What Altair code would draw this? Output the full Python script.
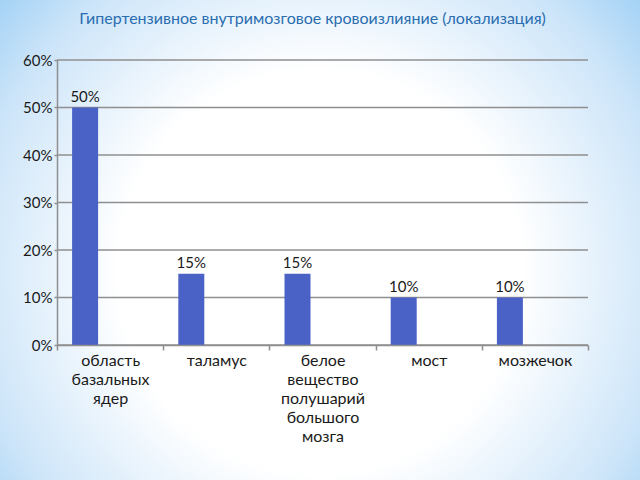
import altair as alt
import pandas as pd

categories = ["область\nбазальных\nядер", "таламус",
              "белое\nвещество\nполушарий\nбольшого\nмозга", "мост", "мозжечок"]
values = [0.50, 0.15, 0.15, 0.10, 0.10]
y_ticks = [0, 0.1, 0.2, 0.3, 0.4, 0.5, 0.6]
title_text = "Гипертензивное внутримозговое кровоизлияние (локализация)"

df = pd.DataFrame({"cat": categories, "val": values})
grid_df = pd.DataFrame({"g": y_ticks})
bg_df = pd.DataFrame({"a": [0]})

FONT = "Lato"
BAR = "#4a62c6"
GRID = "#8f8f8f"
TXT = "#1a1a1a"

x_enc = alt.X("cat:N", sort=categories,
              scale=alt.Scale(paddingInner=0, paddingOuter=0),
              axis=alt.Axis(title=None, labelAngle=0, tickBand="extent",
                            labelExpr="split(datum.label, '\\n')",
                            labelFont=FONT, labelFontSize=16, labelColor=TXT,
                            labelLineHeight=19, labelPadding=2,
                            domainColor=GRID, domainWidth=1.5,
                            tickColor=GRID, tickWidth=1.5, tickSize=5, grid=False,
                            zindex=1))
y_scale = alt.Scale(domain=[0, 0.6], nice=False)

bg = alt.Chart(bg_df).mark_rect(
    color=alt.RadialGradient(
        gradient="radial", x1=0.5, y1=0.55, r1=0, x2=0.5, y2=0.55, r2=0.7,
        stops=[alt.GradientStop(offset=0, color="#ffffff"),
               alt.GradientStop(offset=0.45, color="#ffffff"),
               alt.GradientStop(offset=0.78, color="#cde5f9"),
               alt.GradientStop(offset=1, color="#94cbf4")])
).encode(x=alt.value(-57), x2=alt.value(583), y=alt.value(-60), y2=alt.value(420))

grid = alt.Chart(grid_df).mark_rule(color=GRID, strokeWidth=1.5).encode(
    y=alt.Y("g:Q", scale=y_scale),
    x=alt.value(0), x2=alt.value(531))

bars = alt.Chart(df).mark_bar(color=BAR, width=26, xOffset=-25).encode(
    x=x_enc,
    y=alt.Y("val:Q", scale=y_scale,
            axis=alt.Axis(title=None, values=y_ticks, format=".0%", grid=False,
                          labelFont=FONT, labelFontSize=15, labelColor=TXT,
                          labelPadding=2, domainColor=GRID, domainWidth=1.5,
                          tickColor=GRID, tickWidth=1.5, tickSize=3, zindex=1)))

labels = alt.Chart(df).mark_text(font=FONT, fontSize=15, color=TXT,
                                 xOffset=-25, dy=-11).encode(
    x=alt.X("cat:N", sort=categories),
    y=alt.Y("val:Q", scale=y_scale),
    text=alt.Text("val:Q", format=".0%"))

chart = alt.layer(bg, grid, bars, labels).properties(
    width=531, height=285,
    title=alt.TitleParams(title_text, font=FONT, fontSize=16, fontWeight="normal",
                          color="#2a6db0", anchor="middle", offset=-27, dx=-10),
    autosize=alt.AutoSizeParams(type="none"),
    padding={"left": 57, "top": 60, "right": 52, "bottom": 135},
).configure_view(stroke=None)

chart.save("out.html", embed_options={"renderer": "svg", "actions": False})
